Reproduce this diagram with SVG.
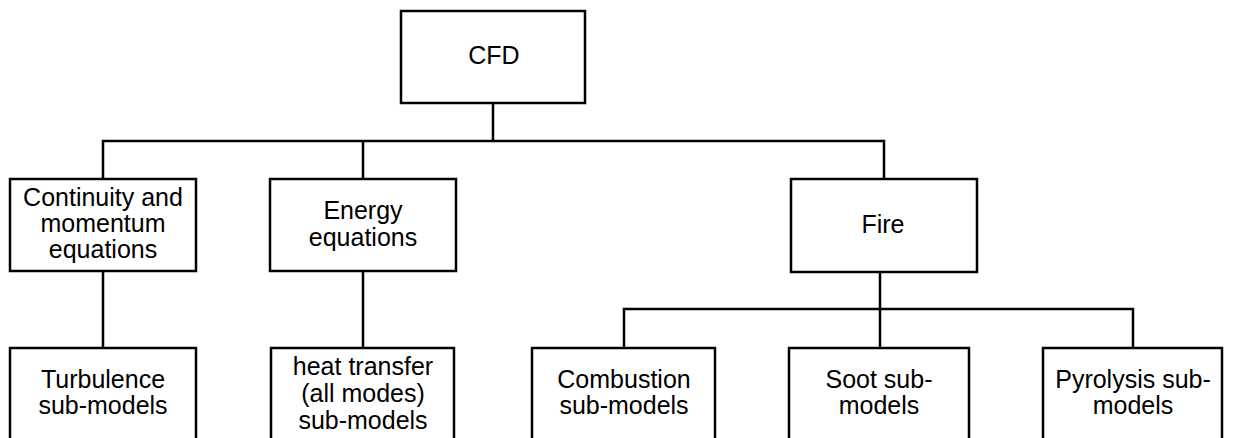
<svg xmlns="http://www.w3.org/2000/svg" width="1236" height="438" viewBox="0 0 1236 438">
<style>
.box{fill:#fff;stroke:#000;stroke-width:2.5}
.ln{fill:none;stroke:#000;stroke-width:2.5}
text{font-family:"Liberation Sans",Arial,sans-serif;font-size:25px;fill:#000;text-anchor:middle}
</style>
<rect width="1236" height="438" fill="#fff"/>
<g id="connectors">
<path class="ln" d="M493 103V141M103 179V141H884V179M363 141V179"/>
<path class="ln" d="M103 271V348M363 271V348"/>
<path class="ln" d="M880 272V309M624 348V309H1133V348M880 309V348"/>
</g>
<g id="cfd"><rect class="box" x="401" y="11" width="184" height="92"/><text x="494" y="64">CFD</text></g>
<g id="continuity"><rect class="box" x="10" y="179" width="186" height="92"/><text x="103" y="206">Continuity and</text><text x="103" y="232">momentum</text><text x="103" y="258">equations</text></g>
<g id="energy"><rect class="box" x="270" y="179" width="186" height="92"/><text x="363" y="219">Energy</text><text x="363" y="246">equations</text></g>
<g id="fire"><rect class="box" x="791" y="179" width="186" height="93"/><text x="883" y="233">Fire</text></g>
<g id="turbulence"><rect class="box" x="10" y="348" width="186" height="100"/><text x="103" y="388">Turbulence</text><text x="103" y="414">sub-models</text></g>
<g id="heat"><rect class="box" x="271" y="348" width="183" height="100"/><text x="363" y="375">heat transfer</text><text x="363" y="402">(all modes)</text><text x="363" y="429">sub-models</text></g>
<g id="combustion"><rect class="box" x="532" y="348" width="183" height="100"/><text x="624" y="388">Combustion</text><text x="624" y="414">sub-models</text></g>
<g id="soot"><rect class="box" x="789" y="348" width="180" height="100"/><text x="879" y="388">Soot sub-</text><text x="879" y="414">models</text></g>
<g id="pyrolysis"><rect class="box" x="1043" y="348" width="179" height="100"/><text x="1133" y="388">Pyrolysis sub-</text><text x="1133" y="414">models</text></g>
</svg>
